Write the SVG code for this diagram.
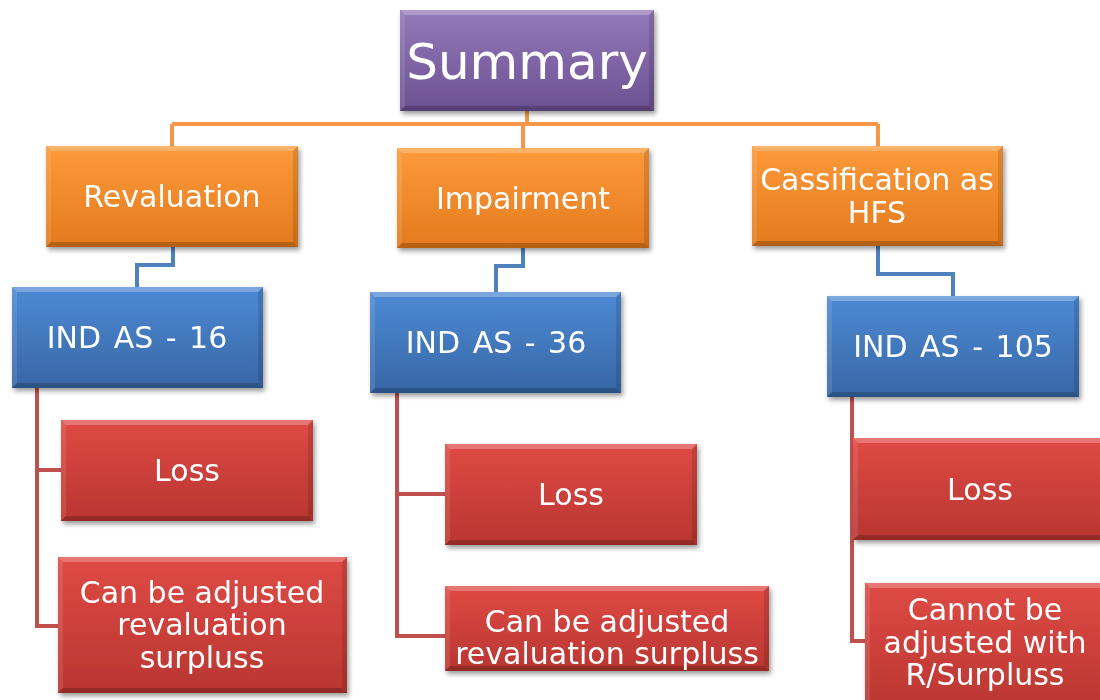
<svg xmlns="http://www.w3.org/2000/svg" width="1100" height="700" viewBox="0 0 1100 700">
  <defs>
    <linearGradient id="gPurple" x1="0" y1="0" x2="0" y2="1">
      <stop offset="0" stop-color="#9479bb"/>
      <stop offset="1" stop-color="#6c5192"/>
    </linearGradient>
    <linearGradient id="gOrange" x1="0" y1="0" x2="0" y2="1">
      <stop offset="0" stop-color="#fd9a3a"/>
      <stop offset="1" stop-color="#e37a1e"/>
    </linearGradient>
    <linearGradient id="gBlue" x1="0" y1="0" x2="0" y2="1">
      <stop offset="0" stop-color="#4d8ad4"/>
      <stop offset="1" stop-color="#3867a6"/>
    </linearGradient>
    <linearGradient id="gRed" x1="0" y1="0" x2="0" y2="1">
      <stop offset="0" stop-color="#df4a45"/>
      <stop offset="1" stop-color="#b93631"/>
    </linearGradient>
    <filter id="shadow" x="-10%" y="-10%" width="130%" height="140%">
      <feDropShadow dx="2" dy="3" stdDeviation="2.5" flood-color="#000" flood-opacity="0.4"/>
    </filter>
  </defs>
  <style>
    .box { filter: url(#shadow); }
    .purple { fill: url(#gPurple); }
    .orange { fill: url(#gOrange); }
    .blue { fill: url(#gBlue); }
    .red { fill: url(#gRed); }
    .hiT { fill: #ffffff; fill-opacity: 0.25; }
    .hiL { fill: #ffffff; fill-opacity: 0.1; }
    .loR { fill: #000000; fill-opacity: 0.12; }
    .loB { fill: #000000; fill-opacity: 0.2; }
    .lbl { font-family: "DejaVu Sans", Verdana, sans-serif; fill: #ffffff; text-anchor: middle; }
    .t30 { font-size: 30px; }
    .ws { word-spacing: 3px; }
    .t50 { font-size: 50px; }
    .c-or { stroke: #f79646; stroke-width: 4; fill: none; }
    .c-bl { stroke: #4f81bd; stroke-width: 4; fill: none; }
    .c-rd { stroke: #c0504d; stroke-width: 4; fill: none; }
  </style>

  <!-- connectors -->
  <g id="connectors">
    <path class="c-or" d="M527 111 V124 M172 124 H878 M172 124 V146 M523 124 V148 M878 124 V146"/>
    <path class="c-bl" d="M173 247 V265 H137 V287"/>
    <path class="c-bl" d="M523 248 V266 H496 V292"/>
    <path class="c-bl" d="M878 246 V274 H953 V296"/>
    <path class="c-rd" d="M37 388 V626 H58 M37 470 H61"/>
    <path class="c-rd" d="M397 393 V636 H445 M397 494 H445"/>
    <path class="c-rd" d="M852 397 V641 H865 M852 490 H853"/>
  </g>

  <!-- Summary -->
  <g id="summary" class="box">
    <rect class="purple" x="400" y="10" width="254" height="101"/>
    <polygon class="hiT" points="400,10 654,10 649,15 405,15"/>
    <polygon class="hiL" points="400,10 405,15 405,106 400,111"/>
    <polygon class="loR" points="654,10 654,111 649,106 649,15"/>
    <polygon class="loB" points="400,111 654,111 649,106 405,106"/>
    <text class="lbl t50" x="527" y="79">Summary</text>
  </g>

  <!-- Revaluation -->
  <g id="revaluation" class="box">
    <rect class="orange" x="46" y="146" width="252" height="101"/>
    <polygon class="hiT" points="46,146 298,146 293,151 51,151"/>
    <polygon class="hiL" points="46,146 51,151 51,242 46,247"/>
    <polygon class="loR" points="298,146 298,247 293,242 293,151"/>
    <polygon class="loB" points="46,247 298,247 293,242 51,242"/>
    <text class="lbl t30" x="172" y="207">Revaluation</text>
  </g>

  <!-- Impairment -->
  <g id="impairment" class="box">
    <rect class="orange" x="397" y="148" width="252" height="100"/>
    <polygon class="hiT" points="397,148 649,148 644,153 402,153"/>
    <polygon class="hiL" points="397,148 402,153 402,243 397,248"/>
    <polygon class="loR" points="649,148 649,248 644,243 644,153"/>
    <polygon class="loB" points="397,248 649,248 644,243 402,243"/>
    <text class="lbl t30" x="523" y="209">Impairment</text>
  </g>

  <!-- Cassification as HFS -->
  <g id="classification" class="box">
    <rect class="orange" x="752" y="146" width="251" height="100"/>
    <polygon class="hiT" points="752,146 1003,146 998,151 757,151"/>
    <polygon class="hiL" points="752,146 757,151 757,241 752,246"/>
    <polygon class="loR" points="1003,146 1003,246 998,241 998,151"/>
    <polygon class="loB" points="752,246 1003,246 998,241 757,241"/>
    <text class="lbl t30" x="877" y="190">Cassification as</text>
    <text class="lbl t30" x="877" y="223">HFS</text>
  </g>

  <!-- IND AS - 16 -->
  <g id="indas16" class="box">
    <rect class="blue" x="12" y="287" width="251" height="101"/>
    <polygon class="hiT" points="12,287 263,287 258,292 17,292"/>
    <polygon class="hiL" points="12,287 17,292 17,383 12,388"/>
    <polygon class="loR" points="263,287 263,388 258,383 258,292"/>
    <polygon class="loB" points="12,388 263,388 258,383 17,383"/>
    <text class="lbl t30 ws" x="137" y="348">IND AS - 16</text>
  </g>

  <!-- IND AS - 36 -->
  <g id="indas36" class="box">
    <rect class="blue" x="370" y="292" width="251" height="101"/>
    <polygon class="hiT" points="370,292 621,292 616,297 375,297"/>
    <polygon class="hiL" points="370,292 375,297 375,388 370,393"/>
    <polygon class="loR" points="621,292 621,393 616,388 616,297"/>
    <polygon class="loB" points="370,393 621,393 616,388 375,388"/>
    <text class="lbl t30 ws" x="496" y="353">IND AS - 36</text>
  </g>

  <!-- IND AS - 105 -->
  <g id="indas105" class="box">
    <rect class="blue" x="827" y="296" width="252" height="101"/>
    <polygon class="hiT" points="827,296 1079,296 1074,301 832,301"/>
    <polygon class="hiL" points="827,296 832,301 832,392 827,397"/>
    <polygon class="loR" points="1079,296 1079,397 1074,392 1074,301"/>
    <polygon class="loB" points="827,397 1079,397 1074,392 832,392"/>
    <text class="lbl t30 ws" x="953" y="357">IND AS - 105</text>
  </g>

  <!-- Loss (IND AS 16) -->
  <g id="loss16" class="box">
    <rect class="red" x="61" y="420" width="252" height="101"/>
    <polygon class="hiT" points="61,420 313,420 308,425 66,425"/>
    <polygon class="hiL" points="61,420 66,425 66,516 61,521"/>
    <polygon class="loR" points="313,420 313,521 308,516 308,425"/>
    <polygon class="loB" points="61,521 313,521 308,516 66,516"/>
    <text class="lbl t30" x="187" y="481">Loss</text>
  </g>

  <!-- Can be adjusted (IND AS 16) -->
  <g id="adjust16" class="box">
    <rect class="red" x="58" y="557" width="289" height="136"/>
    <polygon class="hiT" points="58,557 347,557 342,562 63,562"/>
    <polygon class="hiL" points="58,557 63,562 63,688 58,693"/>
    <polygon class="loR" points="347,557 347,693 342,688 342,562"/>
    <polygon class="loB" points="58,693 347,693 342,688 63,688"/>
    <text class="lbl t30" x="202" y="603">Can be adjusted</text>
    <text class="lbl t30" x="202" y="635">revaluation</text>
    <text class="lbl t30" x="202" y="668">surpluss</text>
  </g>

  <!-- Loss (IND AS 36) -->
  <g id="loss36" class="box">
    <rect class="red" x="445" y="444" width="252" height="101"/>
    <polygon class="hiT" points="445,444 697,444 692,449 450,449"/>
    <polygon class="hiL" points="445,444 450,449 450,540 445,545"/>
    <polygon class="loR" points="697,444 697,545 692,540 692,449"/>
    <polygon class="loB" points="445,545 697,545 692,540 450,540"/>
    <text class="lbl t30" x="571" y="505">Loss</text>
  </g>

  <!-- Can be adjusted (IND AS 36) -->
  <g id="adjust36" class="box">
    <rect class="red" x="445" y="586" width="324" height="85"/>
    <polygon class="hiT" points="445,586 769,586 764,591 450,591"/>
    <polygon class="hiL" points="445,586 450,591 450,666 445,671"/>
    <polygon class="loR" points="769,586 769,671 764,666 764,591"/>
    <polygon class="loB" points="445,671 769,671 764,666 450,666"/>
    <text class="lbl t30" x="607" y="632">Can be adjusted</text>
    <text class="lbl t30" x="607" y="664">revaluation surpluss</text>
  </g>

  <!-- Loss (IND AS 105) -->
  <g id="loss105" class="box">
    <rect class="red" x="853" y="438" width="253" height="102"/>
    <polygon class="hiT" points="853,438 1106,438 1101,443 858,443"/>
    <polygon class="hiL" points="853,438 858,443 858,535 853,540"/>
    <polygon class="loB" points="853,540 1106,540 1101,535 858,535"/>
    <text class="lbl t30" x="980" y="500">Loss</text>
  </g>

  <!-- Cannot be adjusted (IND AS 105) -->
  <g id="cannot105" class="box">
    <rect class="red" x="865" y="583" width="240" height="130"/>
    <polygon class="hiT" points="865,583 1105,583 1100,588 870,588"/>
    <polygon class="hiL" points="865,583 870,588 870,713 865,718"/>
    <text class="lbl t30" x="985" y="620">Cannot be</text>
    <text class="lbl t30" x="985" y="653">adjusted with</text>
    <text class="lbl t30" x="985" y="685">R/Surpluss</text>
  </g>
</svg>
